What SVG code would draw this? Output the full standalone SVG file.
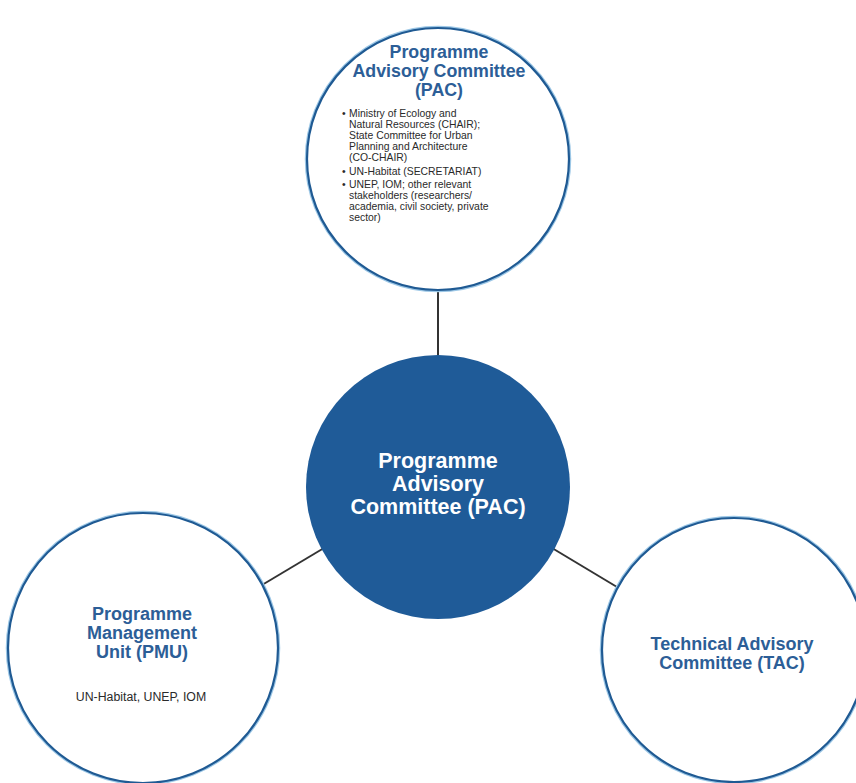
<svg xmlns="http://www.w3.org/2000/svg" width="856" height="783" viewBox="0 0 856 783">
<style>
.ring-halo{fill:none;stroke:#9cc7e6;stroke-width:4.5}
.ring{fill:#fff;stroke:#1f5a93;stroke-width:2.2}
.title{font-family:"Liberation Sans",Arial,sans-serif;font-weight:bold;fill:#2c5e97;text-anchor:middle}
.body{font-family:"Liberation Sans",Arial,sans-serif;fill:#2a2a2a;font-size:10.4px}
.conn{stroke:#333;stroke-width:2;fill:none}
</style>
<rect width="856" height="783" fill="#fff"/>
<g id="connectors">
<line class="conn" x1="438" y1="289" x2="438" y2="356"/>
<line class="conn" x1="324" y1="548" x2="257" y2="588"/>
<line class="conn" x1="552" y1="548" x2="617" y2="587"/>
</g>
<g id="pac-top">
<circle class="ring-halo" cx="438" cy="159" r="131"/>
<circle class="ring" cx="438" cy="159" r="131"/>
<text class="title" font-size="17.8"><tspan x="439" y="58">Programme</tspan><tspan x="439" y="77">Advisory Committee</tspan><tspan x="439" y="96">(PAC)</tspan></text>
<text class="body">
<tspan x="342" y="117">•</tspan><tspan x="349" y="117">Ministry of Ecology and</tspan>
<tspan x="349" y="128">Natural Resources (CHAIR);</tspan>
<tspan x="349" y="139">State Committee for Urban</tspan>
<tspan x="349" y="150">Planning and Architecture</tspan>
<tspan x="349" y="161">(CO-CHAIR)</tspan>
<tspan x="342" y="175">•</tspan><tspan x="349" y="175">UN-Habitat (SECRETARIAT)</tspan>
<tspan x="342" y="188">•</tspan><tspan x="349" y="188">UNEP, IOM; other relevant</tspan>
<tspan x="349" y="199">stakeholders (researchers/</tspan>
<tspan x="349" y="210">academia, civil society, private</tspan>
<tspan x="349" y="221">sector)</tspan>
</text>
</g>
<g id="pac-center">
<circle cx="438" cy="487" r="132" fill="#1f5b98"/>
<text class="title" font-size="21.5" style="fill:#fff"><tspan x="438" y="468">Programme</tspan><tspan x="438" y="491">Advisory</tspan><tspan x="438" y="514">Committee (PAC)</tspan></text>
</g>
<g id="pmu">
<circle class="ring-halo" cx="143" cy="648" r="135"/>
<circle class="ring" cx="143" cy="648" r="135"/>
<text class="title" font-size="18"><tspan x="142" y="620">Programme</tspan><tspan x="142" y="639">Management</tspan><tspan x="142" y="658">Unit (PMU)</tspan></text>
<text class="body" x="141" y="701" text-anchor="middle" style="font-size:12.3px">UN-Habitat, UNEP, IOM</text>
</g>
<g id="tac">
<circle class="ring-halo" cx="734" cy="650" r="132"/>
<circle class="ring" cx="734" cy="650" r="132"/>
<text class="title" font-size="18"><tspan x="732" y="650">Technical Advisory</tspan><tspan x="732" y="669">Committee (TAC)</tspan></text>
</g>
</svg>
